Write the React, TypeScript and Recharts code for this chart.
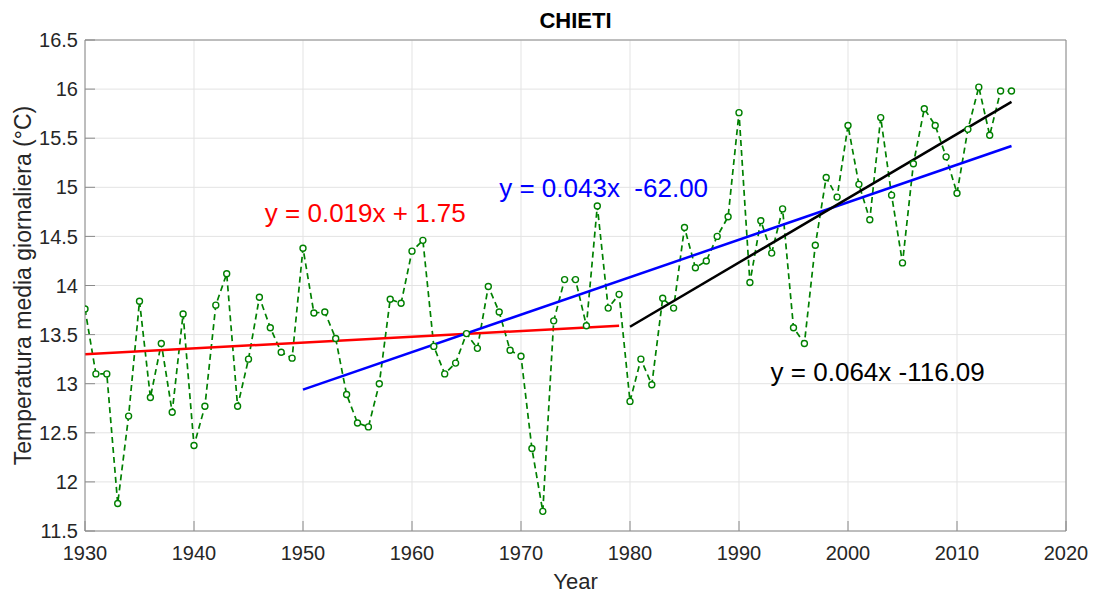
import { LineChart, Line, XAxis, YAxis, CartesianGrid, ReferenceDot, Label } from 'recharts'

const years = [
    1930, 1931, 1932, 1933, 1934, 1935, 1936, 1937, 1938, 1939,
    1940, 1941, 1942, 1943, 1944, 1945, 1946, 1947, 1948, 1949,
    1950, 1951, 1952, 1953, 1954, 1955, 1956, 1957, 1958, 1959,
    1960, 1961, 1962, 1963, 1964, 1965, 1966, 1967, 1968, 1969,
    1970, 1971, 1972, 1973, 1974, 1975, 1976, 1977, 1978, 1979,
    1980, 1981, 1982, 1983, 1984, 1985, 1986, 1987, 1988, 1989,
    1990, 1991, 1992, 1993, 1994, 1995, 1996, 1997, 1998, 1999,
    2000, 2001, 2002, 2003, 2004, 2005, 2006, 2007, 2008, 2009,
    2010, 2011, 2012, 2013, 2014, 2015,
]

const temps = [
    13.76, 13.10, 13.10, 11.78, 12.67, 13.84, 12.86, 13.41, 12.71, 13.71,
    12.37, 12.77, 13.80, 14.12, 12.77, 13.25, 13.88, 13.57, 13.32, 13.26,
    14.38, 13.72, 13.73, 13.46, 12.89, 12.60, 12.56, 13.00, 13.86, 13.82,
    14.35, 14.46, 13.38, 13.10, 13.21, 13.51, 13.36, 13.99, 13.73, 13.34,
    13.28, 12.34, 11.70, 13.64, 14.06, 14.06, 13.59, 14.81, 13.77, 13.91,
    12.82, 13.25, 12.99, 13.87, 13.77, 14.59, 14.18, 14.25, 14.50, 14.70,
    15.76, 14.03, 14.66, 14.33, 14.78, 13.57, 13.41, 14.41, 15.10, 14.90,
    15.63, 15.03, 14.67, 15.71, 14.92, 14.23, 15.24, 15.80, 15.63, 15.31,
    14.94, 15.59, 16.02, 15.53, 15.98, 15.98,
]

// trend segments (start / end)
const redYears = [1930, 1979]
const redValues = [13.30, 13.59]
const blueYears = [1950, 2015]
const blueValues = [12.94, 15.42]
const blackYears = [1980, 2015]
const blackValues = [13.58, 15.87]

const xTicks = [1930, 1940, 1950, 1960, 1970, 1980, 1990, 2000, 2010, 2020]
const yTicks = [11.5, 12, 12.5, 13, 13.5, 14, 14.5, 15, 15.5, 16, 16.5]

const equations = [
    { text: 'y = 0.019x + 1.75', year: 1946.5, value: 14.65, color: '#ff0000' },
    { text: 'y = 0.043x  -62.00', year: 1968.0, value: 14.9, color: '#0000ff' },
    { text: 'y = 0.064x -116.09', year: 1992.9, value: 13.03, color: '#000000' },
]

const FONT = '"Liberation Sans", Arial, Helvetica, sans-serif'
const AXIS = '#8a8a8a'
const TEXT = '#262626'

const toRows = (xs: number[], vs: number[]) => xs.map((year, i) => ({ year, v: vs[i] }))

const mainData = toRows(years, temps)
const redData = toRows(redYears, redValues)
const blueData = toRows(blueYears, blueValues)
const blackData = toRows(blackYears, blackValues)

export default function App() {
    return (
        <div style={{ position: 'absolute', left: 0, top: 0, background: '#fff' }}>
            <LineChart
                width={1094}
                height={594}
                data={mainData}
                margin={{ top: 0, right: 0, left: 0, bottom: 0 }}
                style={{ fontFamily: FONT }}
            >
                <CartesianGrid stroke='#e3e3e3' strokeWidth={1} />
                <XAxis
                    dataKey='year'
                    type='number'
                    domain={[1930, 2020]}
                    ticks={xTicks}
                    allowDataOverflow
                    height={63}
                    stroke={AXIS}
                    tickSize={-10}
                    tickMargin={25}
                    tick={{ fill: TEXT, fontSize: 20, fontFamily: FONT }}
                    label={
                        <Label
                            content={(p: any) => {
                                const vb = p.viewBox
                                return (
                                    <text x={vb.x + vb.width / 2} y={589} textAnchor='middle' fill={TEXT} fontSize={22} fontFamily={FONT}>
                                        Year
                                    </text>
                                )
                            }}
                        />
                    }
                />
                <XAxis
                    xAxisId='top'
                    orientation='top'
                    type='number'
                    domain={[1930, 2020]}
                    ticks={xTicks}
                    allowDataOverflow
                    height={40}
                    stroke={AXIS}
                    tickSize={-10}
                    tick={false}
                    label={
                        <Label
                            content={(p: any) => {
                                const vb = p.viewBox
                                return (
                                    <text x={vb.x + vb.width / 2} y={28} textAnchor='middle' fill='#000' fontSize={22} fontWeight='bold' fontFamily={FONT}>
                                        CHIETI
                                    </text>
                                )
                            }}
                        />
                    }
                />
                <YAxis
                    type='number'
                    domain={[11.5, 16.5]}
                    ticks={yTicks}
                    allowDataOverflow
                    width={85}
                    stroke={AXIS}
                    tickSize={-10}
                    tickMargin={17}
                    tick={{ fill: TEXT, fontSize: 20, fontFamily: FONT }}
                    label={
                        <Label
                            content={(p: any) => {
                                const vb = p.viewBox
                                const cx = 23
                                const cy = vb.y + vb.height / 2
                                return (
                                    <text
                                        x={cx}
                                        y={cy}
                                        transform={`rotate(-90 ${cx} ${cy})`}
                                        textAnchor='middle'
                                        dominantBaseline='central'
                                        fill={TEXT}
                                        fontSize={23}
                                        fontFamily={FONT}
                                    >
                                        Temperatura media giornaliera (°C)
                                    </text>
                                )
                            }}
                        />
                    }
                />
                <YAxis
                    yAxisId='right'
                    orientation='right'
                    type='number'
                    domain={[11.5, 16.5]}
                    ticks={yTicks}
                    allowDataOverflow
                    width={28}
                    stroke={AXIS}
                    tickSize={-10}
                    tick={false}
                />

                <Line
                    dataKey='v'
                    stroke='#008000'
                    strokeWidth={1.7}
                    strokeDasharray='6 4'
                    dot={{ r: 3, stroke: '#008000', strokeWidth: 1.4, fill: '#fff', strokeDasharray: '' }}
                    activeDot={false}
                    isAnimationActive={false}
                />
                <Line data={redData} dataKey='v' stroke='#ff0000' strokeWidth={2.5} dot={false} activeDot={false} isAnimationActive={false} />
                <Line data={blueData} dataKey='v' stroke='#0000ff' strokeWidth={2.5} dot={false} activeDot={false} isAnimationActive={false} />
                <Line data={blackData} dataKey='v' stroke='#000000' strokeWidth={2.5} dot={false} activeDot={false} isAnimationActive={false} />

                {equations.map((eq) => (
                    <ReferenceDot
                        key={eq.text}
                        x={eq.year}
                        y={eq.value}
                        r={0}
                        ifOverflow='visible'
                        shape={(p: any) => (
                            <text x={p.cx} y={p.cy} fill={eq.color} fontSize={26} fontFamily={FONT} style={{ whiteSpace: 'pre' }}>
                                {eq.text}
                            </text>
                        )}
                    />
                ))}
            </LineChart>
        </div>
    )
}
